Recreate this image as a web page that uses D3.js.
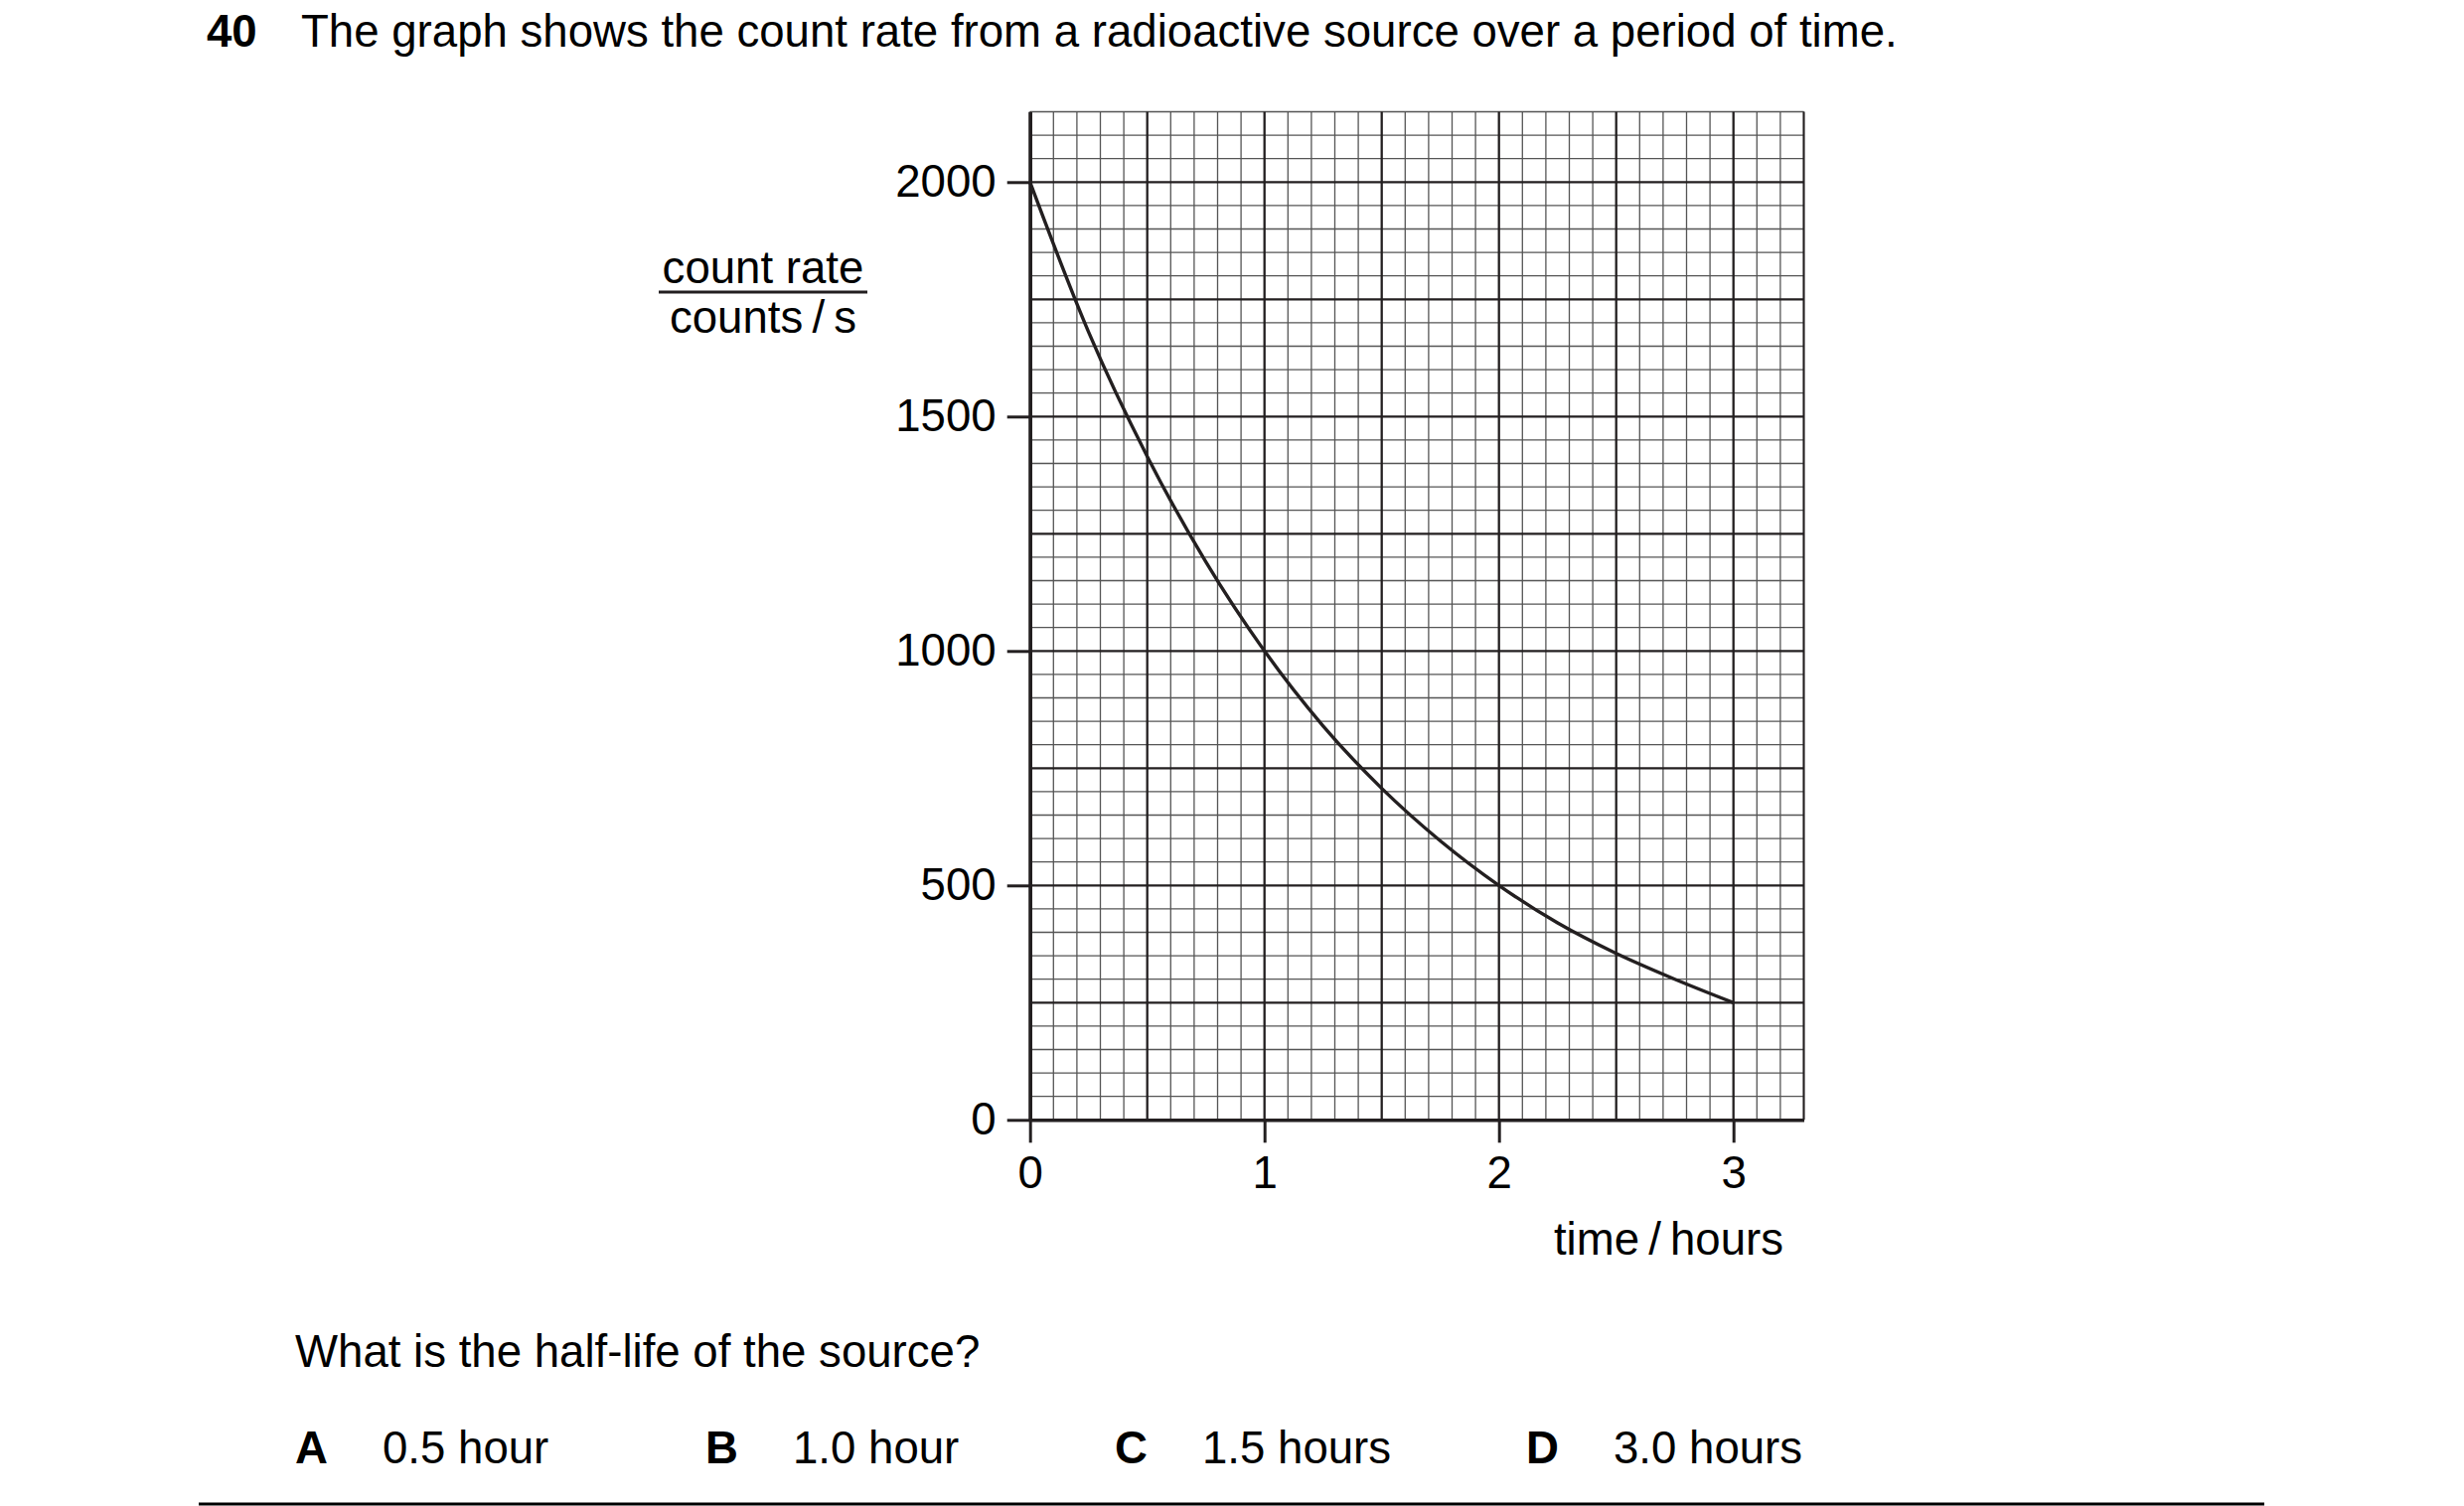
<!DOCTYPE html>
<html>
<head>
<meta charset="utf-8">
<script src="https://cdn.jsdelivr.net/npm/d3@7"></script>
<style>
  html, body { margin: 0; padding: 0; background: #fff; }
  svg { display: block; }
  text { font-family: "Liberation Sans", Arial, sans-serif; fill: #000; }
</style>
</head>
<body>
<div id="chart"></div>
<script>
// values
var timeHours = [0, 0.25, 0.5, 0.75, 1, 1.25, 1.5, 1.75, 2, 2.25, 2.5, 2.75, 3];
var countRate = [2000, 1680, 1415, 1190, 1000, 840, 707, 595, 500, 420, 355, 300, 250];

var timeTicks = [0, 1, 2, 3];
var rateTicks = [0, 500, 1000, 1500, 2000];

var optionLetters = ["A", "B", "C", "D"];
var optionTexts = ["0.5 hour", "1.0 hour", "1.5 hours", "3.0 hours"];
var optionX = [297, 710, 1122, 1536];

var W = 2480, H = 1516, FS = 45.6, INK = "#231f20";

var svg = d3.select("#chart")
  .append("svg")
  .attr("width", W)
  .attr("height", H)
  .attr("viewBox", "0 0 " + W + " " + H);

// scales: paper runs a bit past the last labels
var x = d3.scaleLinear().domain([0, 3.3]).range([1036.7, 1815.5]);
var y = d3.scaleLinear().domain([0, 2150]).range([1127.3, 112.5]);

// question heading
svg.append("text").attr("x", 208).attr("y", 47)
  .attr("font-size", FS).attr("font-weight", "bold").text("40");
svg.append("text").attr("x", 303).attr("y", 47)
  .attr("font-size", FS)
  .text("The graph shows the count rate from a radioactive source over a period of time.");

// grid paper
var grid = svg.append("g");
var xLines = d3.range(0, 34).map(function(i) { return +(i * 0.1).toFixed(1); });
var yLines = d3.range(0, 44).map(function(i) { return i * 50; });

grid.selectAll("line.vminor")
  .data(xLines.filter(function(d, i) { return i % 5 != 0; }))
  .enter().append("line")
    .attr("x1", function(d) { return x(d); })
    .attr("x2", function(d) { return x(d); })
    .attr("y1", y(0)).attr("y2", y(2150))
    .attr("stroke", "#555").attr("stroke-width", 1.3);

grid.selectAll("line.hminor")
  .data(yLines.filter(function(d, i) { return i % 5 != 0; }))
  .enter().append("line")
    .attr("y1", function(d) { return y(d); })
    .attr("y2", function(d) { return y(d); })
    .attr("x1", x(0)).attr("x2", x(3.3))
    .attr("stroke", "#555").attr("stroke-width", 1.3);

grid.selectAll("line.vmajor")
  .data(xLines.filter(function(d, i) { return i % 5 == 0; }))
  .enter().append("line")
    .attr("x1", function(d) { return x(d); })
    .attr("x2", function(d) { return x(d); })
    .attr("y1", y(0)).attr("y2", y(2150))
    .attr("stroke", INK).attr("stroke-width", 2.3);

grid.selectAll("line.hmajor")
  .data(yLines.filter(function(d, i) { return i % 5 == 0; }))
  .enter().append("line")
    .attr("y1", function(d) { return y(d); })
    .attr("y2", function(d) { return y(d); })
    .attr("x1", x(0)).attr("x2", x(3.3))
    .attr("stroke", INK).attr("stroke-width", 2.3);

// right edge of the paper
grid.append("line")
  .attr("x1", x(3.3)).attr("x2", x(3.3))
  .attr("y1", y(0)).attr("y2", y(2150))
  .attr("stroke", INK).attr("stroke-width", 2);

// axes
var yAxis = svg.append("g")
  .attr("transform", "translate(" + x(0) + ",0)")
  .call(d3.axisLeft(y).tickValues(rateTicks).tickFormat(d3.format("d"))
    .tickSize(23).tickSizeOuter(0).tickPadding(11));

var xAxis = svg.append("g")
  .attr("transform", "translate(0," + y(0) + ")")
  .call(d3.axisBottom(x).tickValues(timeTicks).tickFormat(d3.format("d"))
    .tickSize(23).tickSizeOuter(0).tickPadding(13));

[yAxis, xAxis].forEach(function(a) {
  a.attr("font-size", FS).attr("font-family", null);
  a.select(".domain").attr("stroke", INK).attr("stroke-width", 3.6);
  a.selectAll(".tick line").attr("stroke", INK).attr("stroke-width", 3);
  a.selectAll(".tick text").attr("fill", "#000");
});

// decay curve
var line = d3.line()
  .x(function(d, i) { return x(timeHours[i]); })
  .y(function(d) { return y(d); })
  .curve(d3.curveMonotoneX);

svg.append("path")
  .datum(countRate)
  .attr("d", line)
  .attr("fill", "none")
  .attr("stroke", INK)
  .attr("stroke-width", 3.4);

// axis titles
svg.append("text").attr("x", 768).attr("y", 285)
  .attr("text-anchor", "middle").attr("font-size", FS).text("count rate");
svg.append("line")
  .attr("x1", 663).attr("x2", 873).attr("y1", 294).attr("y2", 294)
  .attr("stroke", INK).attr("stroke-width", 3);
svg.append("text").attr("x", 768).attr("y", 335)
  .attr("text-anchor", "middle").attr("font-size", FS).text("counts\u2009/\u2009s");

svg.append("text").attr("x", 1795).attr("y", 1263)
  .attr("text-anchor", "end").attr("font-size", FS).text("time\u2009/\u2009hours");

// question and options
svg.append("text").attr("x", 297).attr("y", 1376)
  .attr("font-size", FS).text("What is the half-life of the source?");

var opts = svg.selectAll("g.opt")
  .data(optionLetters)
  .enter().append("g");
opts.append("text")
  .attr("x", function(d, i) { return optionX[i]; })
  .attr("y", 1473)
  .attr("font-size", FS).attr("font-weight", "bold")
  .text(function(d) { return d; });
opts.append("text")
  .attr("x", function(d, i) { return optionX[i] + 88; })
  .attr("y", 1473)
  .attr("font-size", FS)
  .text(function(d, i) { return optionTexts[i]; });

svg.append("line")
  .attr("x1", 200).attr("x2", 2279).attr("y1", 1514).attr("y2", 1514)
  .attr("stroke", "#000").attr("stroke-width", 3);
</script>
</body>
</html>
